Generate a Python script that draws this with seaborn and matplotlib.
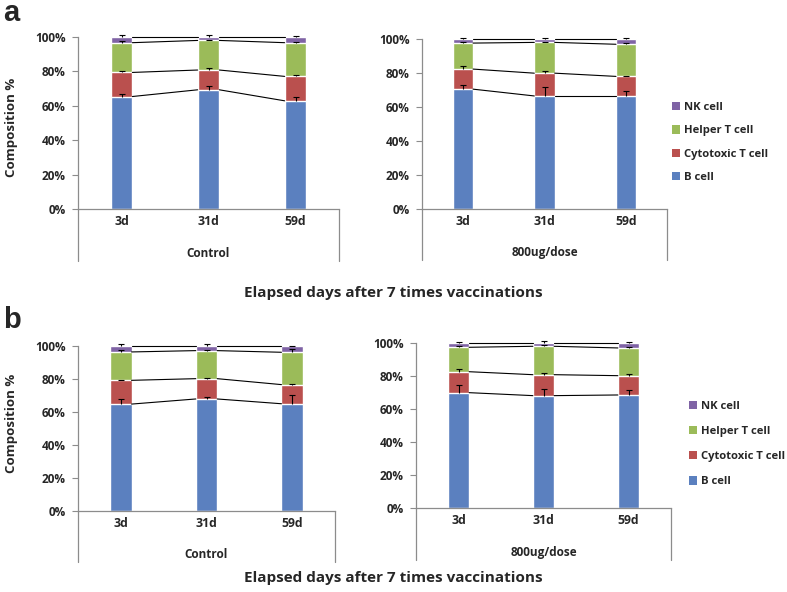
import matplotlib
matplotlib.use("Agg")
import matplotlib.pyplot as plt
from matplotlib.patches import Patch
from matplotlib.ticker import FuncFormatter
import seaborn as sns
import pandas as pd
import numpy as np

sns.set_theme(style="white")
plt.rcParams["font.family"] = ["Open Sans", "DejaVu Sans"]

# ---------------- data ----------------
days = ["3d", "31d", "59d"]
series_names = ["B cell", "Cytotoxic T cell", "Helper T cell", "NK cell"]

# panel a, Control
a_ctrl_b = [65.4, 69.3, 62.9]
a_ctrl_cyto = [14.0, 11.5, 14.2]
a_ctrl_helper = [17.3, 17.2, 19.6]
a_ctrl_nk = [3.3, 2.0, 3.3]
a_ctrl_err_b = [1.4, 2.0, 2.3]
a_ctrl_err_cyto = [0.6, 0.9, 0.8]
a_ctrl_err_helper = [0.8, 0.5, 0.5]
a_ctrl_err_nk = [1.2, 1.1, 0.4]

# panel a, 800ug/dose
a_dose_b = [70.5, 66.5, 66.5]
a_dose_cyto = [11.8, 13.4, 11.5]
a_dose_helper = [15.3, 18.1, 18.9]
a_dose_nk = [2.4, 2.0, 3.1]
a_dose_err_b = [2.5, 5.2, 3.2]
a_dose_err_cyto = [1.6, 1.0, 0.2]
a_dose_err_helper = [0.4, 0.3, 0.5]
a_dose_err_nk = [0.4, 0.6, 0.6]

# panel b, Control
b_ctrl_b = [64.8, 67.9, 65.0]
b_ctrl_cyto = [14.4, 12.3, 11.6]
b_ctrl_helper = [17.2, 17.0, 19.6]
b_ctrl_nk = [3.6, 2.8, 3.8]
b_ctrl_err_b = [2.9, 1.4, 5.1]
b_ctrl_err_cyto = [0.4, 0.2, 0.4]
b_ctrl_err_helper = [1.0, 0.6, 2.2]
b_ctrl_err_nk = [1.0, 1.0, 0.2]

# panel b, 800ug/dose
b_dose_b = [69.9, 68.1, 68.5]
b_dose_cyto = [12.7, 12.7, 11.7]
b_dose_helper = [14.8, 17.2, 16.8]
b_dose_nk = [2.6, 2.0, 3.0]
b_dose_err_b = [4.6, 3.8, 2.8]
b_dose_err_cyto = [1.6, 1.2, 1.0]
b_dose_err_helper = [1.0, 0.6, 0.8]
b_dose_err_nk = [0.4, 1.2, 0.4]

colors = {"B cell": "#5B80BF", "Cytotoxic T cell": "#BA504E",
          "Helper T cell": "#9BBB59", "NK cell": "#7F63A5"}
AXCOL = "#8c8c8c"
BAR_W = 0.25

fig = plt.figure(figsize=(7.87, 5.92), dpi=100)


def draw_panel(rect, segs, errs, group_label, ext):
    ax = fig.add_axes(rect)
    cum = np.cumsum(np.array(segs), axis=0)  # rows: B, B+C, B+C+H, total
    # draw tallest first so that the stacked look appears
    for k in range(3, -1, -1):
        df = pd.DataFrame({"day": days, "val": cum[k]})
        sns.barplot(data=df, x="day", y="val", order=days, color=colors[series_names[k]],
                    width=BAR_W, errorbar=None, saturation=1, ax=ax, zorder=2)
    xs = np.arange(len(days))
    # series lines
    for k in range(4):
        for i in range(len(days) - 1):
            ax.plot([xs[i] + BAR_W / 2, xs[i + 1] - BAR_W / 2], [cum[k][i], cum[k][i + 1]],
                    color="black", lw=0.8, zorder=3, clip_on=False)
    # error bars (upper only)
    for k in range(4):
        e = np.array(errs[k])
        eb = ax.errorbar(xs, cum[k], yerr=[np.zeros_like(e), e], fmt="none", ecolor="black",
                         elinewidth=0.8, capsize=2.5, capthick=0.8, zorder=4, clip_on=False)
        caps = eb[1]
        if len(caps) == 2:
            caps[0].set_visible(False)
    ax.set_xlim(-0.5, 2.5)
    ax.set_ylim(0, 100)
    ax.set_yticks([0, 20, 40, 60, 80, 100])
    ax.yaxis.set_major_formatter(FuncFormatter(lambda v, p: f"{v:.0f}%"))
    ax.set_xlabel("")
    ax.set_ylabel("")
    ax.spines["top"].set_visible(False)
    ax.spines["right"].set_visible(False)
    for s in ["left", "bottom"]:
        ax.spines[s].set_color(AXCOL)
        ax.spines[s].set_linewidth(0.9)
    ax.tick_params(axis="y", which="both", left=True, length=4, width=0.8, color=AXCOL,
                   pad=5, labelsize=8.5)
    ax.tick_params(axis="x", bottom=False, length=0, pad=4.5, labelsize=8.8)
    for t in ax.get_yticklabels() + ax.get_xticklabels():
        t.set_fontweight("bold")
    # multi-level axis frame lines
    for xa in (0, 1):
        ax.plot([xa, xa], [0, -ext], transform=ax.transAxes, color=AXCOL, lw=0.9, clip_on=False)
    ax.text(0.5, -ext * 0.86, group_label, transform=ax.transAxes, ha="center", va="center",
            fontsize=8.5, fontweight="bold")
    return ax


W, H = 787, 592


def rect(x0, x1, ytop, ybot):
    return [x0 / W, 1 - ybot / H, (x1 - x0) / W, (ybot - ytop) / H]


draw_panel(rect(78, 339, 37, 209),
           [a_ctrl_b, a_ctrl_cyto, a_ctrl_helper, a_ctrl_nk],
           [a_ctrl_err_b, a_ctrl_err_cyto, a_ctrl_err_helper, a_ctrl_err_nk],
           "Control", 52 / 172)
draw_panel(rect(422, 667, 39, 209),
           [a_dose_b, a_dose_cyto, a_dose_helper, a_dose_nk],
           [a_dose_err_b, a_dose_err_cyto, a_dose_err_helper, a_dose_err_nk],
           "800ug/dose", 51 / 170)
draw_panel(rect(78, 335, 346, 511),
           [b_ctrl_b, b_ctrl_cyto, b_ctrl_helper, b_ctrl_nk],
           [b_ctrl_err_b, b_ctrl_err_cyto, b_ctrl_err_helper, b_ctrl_err_nk],
           "Control", 51 / 165)
draw_panel(rect(416, 671, 343, 508),
           [b_dose_b, b_dose_cyto, b_dose_helper, b_dose_nk],
           [b_dose_err_b, b_dose_err_cyto, b_dose_err_helper, b_dose_err_nk],
           "800ug/dose", 52 / 165)

# legends
handles = [Patch(facecolor=colors[n], edgecolor="none", label=n) for n in series_names[::-1]]
for (lx, ly, ls) in [(672, 102, 1.1), (689, 401, 1.25)]:
    fig.legend(handles=handles, loc="upper left", bbox_to_anchor=(lx / W, 1 - ly / H),
               frameon=False, borderpad=0, borderaxespad=0, handlelength=0.75,
               handleheight=0.75, handletextpad=0.35, labelspacing=ls,
               prop={"size": 8.1, "weight": "bold"})

# y labels, panel letters, titles
fig.text(12 / W, 1 - 127 / H, "Composition %", rotation=90, ha="center", va="center",
         fontsize=9.5, fontweight="bold")
fig.text(12 / W, 1 - 423 / H, "Composition %", rotation=90, ha="center", va="center",
         fontsize=9.5, fontweight="bold")
fig.text(3 / W, 1 - 13 / H, "a", ha="left", va="center", fontsize=21, fontweight="bold",
         family=["Liberation Sans", "DejaVu Sans"])
fig.text(3 / W, 1 - 320 / H, "b", ha="left", va="center", fontsize=21, fontweight="bold",
         family=["Liberation Sans", "DejaVu Sans"])
fig.text(393 / W, 1 - 293 / H, "Elapsed days after 7 times vaccinations", ha="center",
         va="center", fontsize=11, fontweight="bold")
fig.text(393 / W, 1 - 578 / H, "Elapsed days after 7 times vaccinations", ha="center",
         va="center", fontsize=11, fontweight="bold")

fig.savefig("out.png", dpi=100)
